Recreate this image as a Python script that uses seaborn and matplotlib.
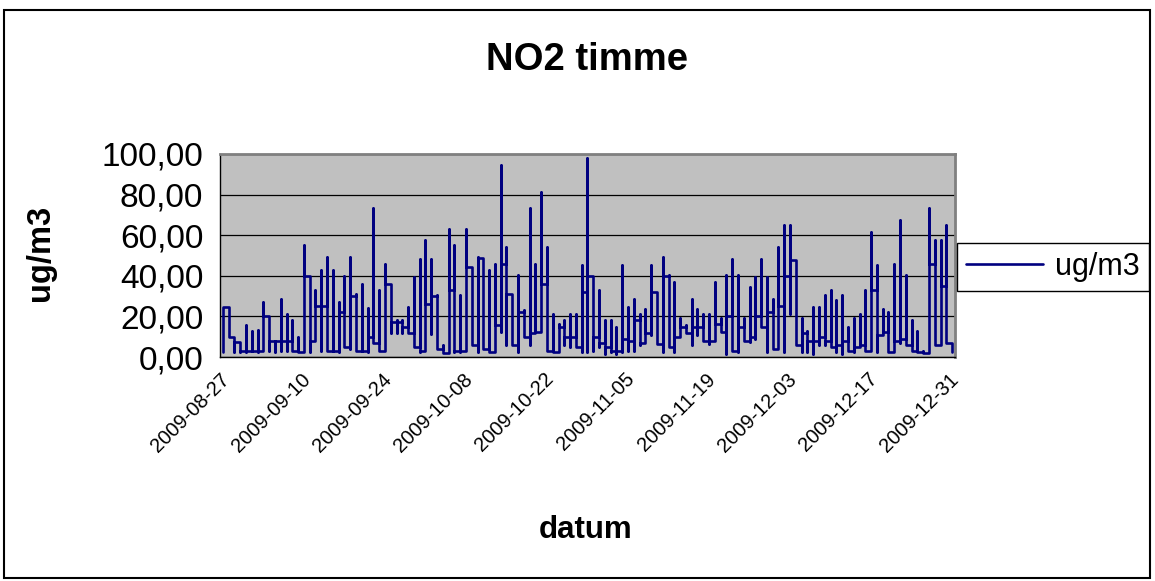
import numpy as np
import pandas as pd
import matplotlib
matplotlib.use("Agg")
import matplotlib.pyplot as plt
import matplotlib.dates as mdates
from matplotlib.patches import Rectangle
import seaborn as sns

sns.set_style("white")
plt.rcParams['font.family'] = ['Liberation Sans', 'DejaVu Sans']
plt.rcParams['text.color'] = 'black'
plt.rcParams['axes.labelcolor'] = 'black'
plt.rcParams['xtick.color'] = 'black'
plt.rcParams['ytick.color'] = 'black'

# ---- data (hourly values plotted at the day's date; per day: high, low, closing level) ----
start_date = "2009-08-27"
n_days = 127
day_hi = [24.7, 24.7, 7.4, 7.0, 15.6, 13.0, 13.2, 27.1, 17.3, 8.0,
          28.8, 21.4, 18.0, 10.0, 55.1, 33.0, 33.0, 42.8, 49.3, 42.8,
          27.0, 40.0, 49.3, 31.0, 36.0, 24.0, 73.2, 33.0, 46.0, 36.0,
          18.0, 18.0, 24.7, 39.5, 48.5, 57.6, 48.5, 30.4, 6.0, 63.3,
          55.0, 30.4, 63.3, 44.4, 49.3, 48.5, 42.8, 46.0, 94.6, 54.3,
          31.2, 40.3, 23.0, 73.2, 46.0, 81.4, 54.3, 21.4, 16.4, 18.0,
          21.4, 21.4, 45.2, 97.9, 40.0, 33.0, 18.0, 18.0, 14.8, 45.2,
          24.7, 28.8, 21.4, 23.8, 45.2, 32.0, 49.3, 40.3, 37.0, 19.0,
          15.6, 28.8, 23.8, 21.4, 21.4, 37.0, 19.0, 40.3, 48.5, 40.3,
          19.0, 34.5, 39.5, 48.5, 39.5, 28.8, 54.3, 65.0, 65.0, 46.0,
          19.0, 13.0, 24.7, 24.7, 30.4, 33.0, 28.0, 30.4, 15.0, 19.0,
          21.4, 33.0, 61.7, 45.2, 23.8, 22.0, 46.0, 67.4, 40.3, 18.0,
          13.0, 3.0, 73.2, 57.6, 57.6, 65.0, 7.0]
day_lo = [2.5, 10.0, 2.5, 2.5, 2.5, 3.0, 2.5, 3.0, 3.0, 2.5,
          3.0, 3.0, 3.0, 2.5, 2.5, 2.5, 8.0, 3.0, 3.0, 3.0,
          2.5, 5.0, 4.0, 3.0, 3.0, 2.5, 7.4, 3.0, 3.0, 12.0,
          12.0, 12.0, 12.0, 5.0, 2.5, 4.0, 11.5, 6.6, 2.0, 2.0,
          2.5, 2.5, 4.0, 8.2, 2.5, 7.0, 2.5, 2.5, 12.3, 5.8,
          5.8, 2.5, 10.0, 5.8, 12.3, 24.7, 3.0, 2.5, 2.5, 5.8,
          5.0, 7.4, 2.5, 2.5, 3.0, 5.0, 1.6, 2.5, 1.6, 2.5,
          3.0, 3.0, 5.8, 9.0, 11.0, 6.6, 2.5, 6.6, 2.5, 10.0,
          12.3, 5.8, 11.0, 8.0, 6.6, 16.4, 12.3, 1.6, 3.0, 2.5,
          8.0, 7.4, 9.0, 14.8, 2.5, 4.0, 4.0, 2.5, 21.4, 5.8,
          2.5, 2.5, 1.6, 5.8, 5.8, 6.6, 2.5, 1.6, 5.0, 2.5,
          5.8, 3.0, 12.3, 2.5, 12.3, 2.5, 8.0, 7.0, 5.8, 3.0,
          2.5, 2.0, 2.0, 5.8, 8.0, 7.4, 2.5]
day_end = [24.7, 10.0, 7.4, 3.0, 3.0, 3.0, 3.0, 20.0, 8.0, 8.0,
           8.0, 8.0, 3.0, 2.5, 40.0, 8.0, 25.0, 25.0, 3.0, 3.0,
           22.0, 5.0, 30.0, 3.0, 3.0, 10.0, 7.0, 3.0, 36.0, 17.0,
           17.0, 15.0, 12.0, 5.0, 3.0, 26.0, 30.0, 4.0, 2.0, 33.0,
           3.0, 3.0, 44.4, 6.0, 49.0, 4.0, 2.5, 16.0, 46.0, 31.0,
           5.8, 22.0, 10.0, 12.0, 12.3, 36.0, 3.0, 2.5, 15.0, 10.0,
           10.0, 5.0, 32.0, 40.0, 10.0, 7.0, 5.0, 3.0, 3.0, 9.0,
           8.0, 18.0, 7.0, 12.0, 32.0, 6.6, 40.0, 5.0, 10.0, 15.0,
           12.0, 15.0, 15.0, 8.0, 8.0, 16.4, 12.3, 20.0, 3.0, 15.0,
           8.0, 10.0, 20.0, 14.8, 22.0, 4.0, 25.0, 40.0, 47.7, 5.8,
           12.0, 8.0, 8.0, 10.0, 8.0, 5.0, 6.0, 8.0, 3.0, 5.0,
           5.8, 3.0, 33.0, 11.0, 12.3, 2.5, 8.0, 9.0, 5.8, 3.0,
           2.5, 2.0, 46.0, 5.8, 35.0, 7.0, 2.5]
tick_labels = ["2009-08-27", "2009-09-10", "2009-09-24", "2009-10-08", "2009-10-22",
               "2009-11-05", "2009-11-19", "2009-12-03", "2009-12-17", "2009-12-31"]
y_ticks = [0, 20, 40, 60, 80, 100]

# ---- build the plotted sequence: every value of a day sits on that day's date ----
dates = pd.date_range(start_date, periods=n_days, freq="D")
xs, ys = [], []
prev = None
for d, hi, lo, en in zip(dates, day_hi, day_lo, day_end):
    x = d + pd.Timedelta(hours=12)
    first = lo if prev is None else prev
    for v in (first, hi, lo, en):
        xs.append(x)
        ys.append(v)
    prev = en
df = pd.DataFrame({"datum": xs, "ug/m3": ys})

# ---- figure ----
W, H = 1155, 581
fig = plt.figure(figsize=(W / 100, H / 100), dpi=100)
fig.patch.set_facecolor("white")
ax = fig.add_axes([220 / W, 1 - 357 / H, (955 - 220) / W, (357 - 154) / H])
ax.set_facecolor("#C0C0C0")

sns.lineplot(data=df, x="datum", y="ug/m3", estimator=None, sort=False,
             color="#000080", linewidth=1.9, ax=ax, label="ug/m3", legend=False)

ax.set_xlim(pd.Timestamp(start_date), pd.Timestamp("2010-01-01"))
ax.set_ylim(0, 100)
ax.set_yticks(y_ticks)
ax.set_yticklabels([f"{v:.2f}".replace(".", ",") for v in y_ticks], fontsize=24)
ax.set_xticks([pd.Timestamp(t) for t in tick_labels])
ax.set_xticklabels(tick_labels, rotation=45, ha="right", rotation_mode="anchor", fontsize=14.5)
ax.tick_params(axis="x", direction="out", length=6, width=1, pad=3, colors="black")
ax.tick_params(axis="y", direction="out", length=7, width=1, pad=5, colors="black")
ax.yaxis.grid(True, color="black", linewidth=0.9)
ax.xaxis.grid(False)
ax.set_axisbelow(True)
for side in ("left", "bottom"):
    ax.spines[side].set_color("black")
    ax.spines[side].set_linewidth(1.0)
for side in ("top", "right"):
    ax.spines[side].set_color("#808080")
    ax.spines[side].set_linewidth(2.0)
ax.set_xlabel("")
ax.set_ylabel("")

fig.text(587 / W, 1 - 60 / H, "NO2 timme", ha="center", va="center",
         fontsize=27.5, fontweight="bold", color="black")
fig.text(586 / W, 1 - 530 / H, "datum", ha="center", va="center",
         fontsize=22.5, fontweight="bold", color="black")
fig.text(40 / W, 1 - 253 / H, "ug/m3", ha="center", va="center", rotation=90,
         fontsize=23.5, fontweight="bold", color="black")

handles, labels = ax.get_legend_handles_labels()
leg = fig.legend(handles, labels, loc="center left", bbox_to_anchor=(957 / W, 1 - 267 / H),
                 borderaxespad=0, frameon=True, fancybox=False, edgecolor="black", fontsize=22,
                 handlelength=2.5, handletextpad=0.4, borderpad=0.3, framealpha=1)
leg.get_frame().set_linewidth(1.0)

fig.add_artist(Rectangle((4 / W, 1 - 578 / H), (1150 - 4) / W, (578 - 10) / H,
                         transform=fig.transFigure, fill=False, edgecolor="black", linewidth=1.5))

fig.savefig("out.png", dpi=100, facecolor="white")
